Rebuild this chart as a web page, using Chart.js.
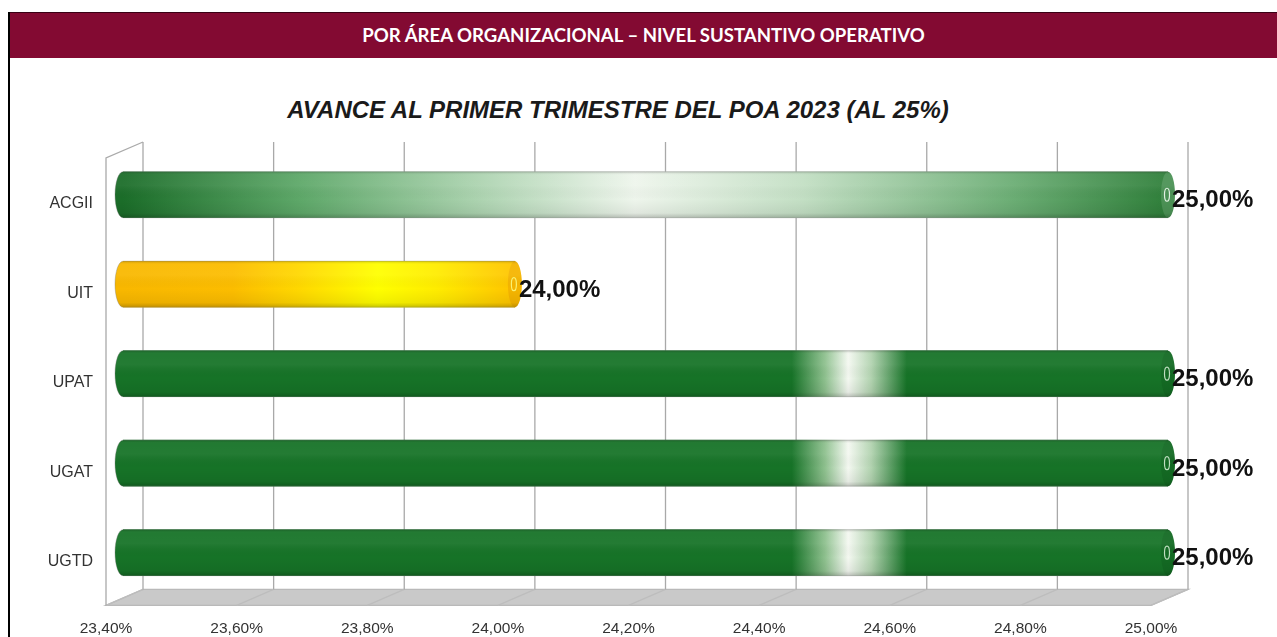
<!DOCTYPE html>
<html>
<head>
<meta charset="utf-8">
<script src="https://cdn.jsdelivr.net/npm/chart.js@4.4.1/dist/chart.umd.min.js"></script>
<style>
    body { margin: 0; background: #fff; }
    #page { position: relative; width: 1277px; height: 637px; overflow: hidden; }
    #frame { position: absolute; left: 8px; top: 12px; width: 1269px; height: 625px; border-left: 2px solid #000; }
    #header {
        position: absolute; left: 10px; top: 12px; width: 1267px; height: 45px;
        background: #830a32; border-top: 1px solid #3a0014;
        color: #fff; font: bold 18.6px Lato, "Open Sans", sans-serif;
        text-align: center; line-height: 44px;
    }
    #title {
        position: absolute; left: 0; top: 95px; width: 1236px;
        text-align: center; color: #1a1a1a;
        font: italic bold 24px "Liberation Sans", Arial, sans-serif; line-height: 29px;
    }
    #myCanvas { position: absolute; left: 0; top: 0; }
</style>
</head>
<body>
<div id="page">
    <div id="frame"></div>
    <div id="header">POR ÁREA ORGANIZACIONAL – NIVEL SUSTANTIVO OPERATIVO</div>
    <div id="title">AVANCE AL PRIMER TRIMESTRE DEL POA 2023 (AL 25%)</div>
    <canvas id="myCanvas" width="1277" height="637"></canvas>
</div>
<script>
// data
var categories = ['ACGII', 'UIT', 'UPAT', 'UGAT', 'UGTD'];
var avance = [25, 24, 25, 25, 25];
var tickValues = [23.4, 23.6, 23.8, 24.0, 24.2, 24.4, 24.6, 24.8, 25.0];
var axisMin = 23.4;
var axisMax = 25;

// look of each bar (gradient stops along the bar, end cap colours)
var greenBar = {
    stops: [[0, '#167327'], [0.64, '#167327'], [0.672, '#8fc18f'], [0.694, '#f4f8f1'], [0.716, '#b2d3b0'], [0.75, '#167327'], [1, '#167327']],
    cap: '#136a23', ring: 'rgba(210,235,210,0.9)'
};
var barStyles = [
    {
        stops: [[0, '#1b6d29'], [0.17, '#5ea869'], [0.33, '#a8d1ac'], [0.49, '#eef5ec'], [0.65, '#c3dfc4'], [0.85, '#6cae75'], [1, '#2f7f3a']],
        cap: '#4b9255', ring: 'rgba(235,245,235,0.95)'
    },
    {
        stops: [[0, '#f9b800'], [0.28, '#fcbd00'], [0.45, '#ffd800'], [0.65, '#ffff00'], [0.8, '#ffec00'], [1, '#ffc400']],
        cap: '#f5b500', ring: 'rgba(250,245,120,0.95)'
    },
    greenBar, greenBar, greenBar
];

function fmt(v) {
    return v.toFixed(2).replace('.', ',') + '%';
}

function BarFill(context) {
    var chart = context.chart;
    var style = barStyles[context.dataIndex];
    if (!chart.chartArea || !chart.scales.x) {
        return style.stops[0][1];
    }
    var xs = chart.scales.x;
    var x0 = xs.getPixelForValue(axisMin);
    var x1 = xs.getPixelForValue(avance[context.dataIndex]);
    var g = chart.ctx.createLinearGradient(x0, 0, x1, 0);
    style.stops.forEach(function (s) { g.addColorStop(s[0], s[1]); });
    return g;
}

// 3d box: floor, left wall and back grid lines, then the cylinder look of the bars
var boxPlugin = {
    id: 'box',
    beforeDatasetsDraw: function (chart) {
        var a = chart.chartArea, xs = chart.scales.x, ctx = chart.ctx;
        var bx = 20, by = -8, fx = -17, fy = 8;
        ctx.save();
        ctx.lineWidth = 1.3;

        // floor
        ctx.beginPath();
        ctx.moveTo(a.left + fx, a.bottom + fy);
        ctx.lineTo(a.right + fx, a.bottom + fy);
        ctx.lineTo(a.right + bx, a.bottom + by);
        ctx.lineTo(a.left + bx, a.bottom + by);
        ctx.closePath();
        ctx.fillStyle = '#c9c9c9';
        ctx.fill();
        ctx.strokeStyle = '#b9b9b9';
        ctx.stroke();
        tickValues.forEach(function (v) {
            var px = xs.getPixelForValue(v);
            ctx.beginPath();
            ctx.moveTo(px + bx, a.bottom + by);
            ctx.lineTo(px + fx, a.bottom + fy);
            ctx.strokeStyle = '#bdbdbd';
            ctx.stroke();
        });

        // left wall
        ctx.beginPath();
        ctx.moveTo(a.left + fx, a.bottom + fy);
        ctx.lineTo(a.left + fx, a.top + fy);
        ctx.lineTo(a.left + bx, a.top + by);
        ctx.strokeStyle = '#aaaaaa';
        ctx.stroke();

        // back grid
        tickValues.forEach(function (v) {
            var px = xs.getPixelForValue(v) + bx;
            ctx.beginPath();
            ctx.moveTo(px, a.top + by);
            ctx.lineTo(px, a.bottom + by);
            ctx.strokeStyle = '#a9a9a9';
            ctx.stroke();
        });
        ctx.restore();
    },
    afterDatasetsDraw: function (chart) {
        var ctx = chart.ctx;
        var base = chart.scales.x.getPixelForValue(axisMin);
        var meta = chart.getDatasetMeta(0);
        meta.data.forEach(function (bar, i) {
            var p = bar.getProps(['x', 'y', 'height'], true);
            var h = p.height, top = p.y - h / 2, bottom = p.y + h / 2;
            var style = barStyles[i];
            ctx.save();

            // rounded start of the cylinder
            ctx.beginPath();
            ctx.ellipse(base, p.y, 8, h / 2, 0, Math.PI / 2, Math.PI * 1.5);
            ctx.closePath();
            ctx.fillStyle = bar.options.backgroundColor;
            ctx.fill();

            // cylinder shading
            ctx.beginPath();
            ctx.moveTo(p.x, top);
            ctx.lineTo(base, top);
            ctx.ellipse(base, p.y, 8, h / 2, 0, Math.PI * 1.5, Math.PI / 2, true);
            ctx.lineTo(p.x, bottom);
            ctx.closePath();
            var sh = ctx.createLinearGradient(0, top, 0, bottom);
            sh.addColorStop(0, 'rgba(0,0,0,0.16)');
            sh.addColorStop(0.07, 'rgba(255,255,255,0.05)');
            sh.addColorStop(0.3, 'rgba(255,255,255,0.06)');
            sh.addColorStop(0.6, 'rgba(0,0,0,0)');
            sh.addColorStop(0.9, 'rgba(0,0,0,0.06)');
            sh.addColorStop(1, 'rgba(0,0,0,0.22)');
            ctx.fillStyle = sh;
            ctx.fill();
            ctx.strokeStyle = 'rgba(120,120,120,0.35)';
            ctx.lineWidth = 1;
            ctx.stroke();

            // end cap
            ctx.beginPath();
            ctx.ellipse(p.x, p.y, 7, h / 2, 0, 0, Math.PI * 2);
            ctx.fillStyle = style.cap;
            ctx.fill();
            ctx.fillStyle = sh;
            ctx.fill();
            ctx.beginPath();
            ctx.ellipse(p.x - 1, p.y, 2.5, 6.5, 0, 0, Math.PI * 2);
            ctx.strokeStyle = style.ring;
            ctx.lineWidth = 1.2;
            ctx.stroke();

            // value label
            ctx.fillStyle = '#111';
            ctx.font = 'bold 24px "Liberation Sans", Arial, sans-serif';
            ctx.textAlign = 'left';
            ctx.textBaseline = 'middle';
            ctx.fillText(fmt(avance[i]), p.x + 4, p.y + 6);
            ctx.restore();
        });
    }
};

function SetGraph() {
    var ctx = document.getElementById('myCanvas').getContext('2d');
    var myChart = new Chart(ctx, {
        type: 'bar',
        data: {
            labels: categories,
            datasets: [{
                data: avance,
                base: axisMin,
                backgroundColor: BarFill,
                borderWidth: 0,
                barThickness: 46
            }]
        },
        options: {
            indexAxis: 'y',
            responsive: false,
            animation: false,
            devicePixelRatio: 1,
            layout: { padding: { top: 150, left: 0, right: 109, bottom: 0 } },
            plugins: {
                legend: { display: false },
                tooltip: { enabled: false },
                title: { display: false }
            },
            scales: {
                x: {
                    type: 'linear',
                    min: axisMin,
                    max: axisMax,
                    afterBuildTicks: function (scale) {
                        scale.ticks = tickValues.map(function (v) { return { value: v }; });
                    },
                    afterFit: function (scale) { scale.height = 39.5; },
                    grid: { display: false, drawTicks: false },
                    border: { display: false },
                    ticks: {
                        callback: function (v) { return fmt(v); },
                        color: '#333',
                        font: { family: '"Liberation Sans", Arial, sans-serif', size: 15.5 },
                        padding: 22,
                        labelOffset: -17,
                        maxRotation: 0,
                        autoSkip: false
                    }
                },
                y: {
                    afterFit: function (scale) { scale.width = 123; },
                    grid: { display: false, drawTicks: false },
                    border: { display: false },
                    ticks: {
                        color: '#333',
                        font: { family: '"Liberation Sans", Arial, sans-serif', size: 16 },
                        padding: 30,
                        labelOffset: 9
                    }
                }
            }
        },
        plugins: [boxPlugin]
    });
}

SetGraph();
</script>
</body>
</html>
